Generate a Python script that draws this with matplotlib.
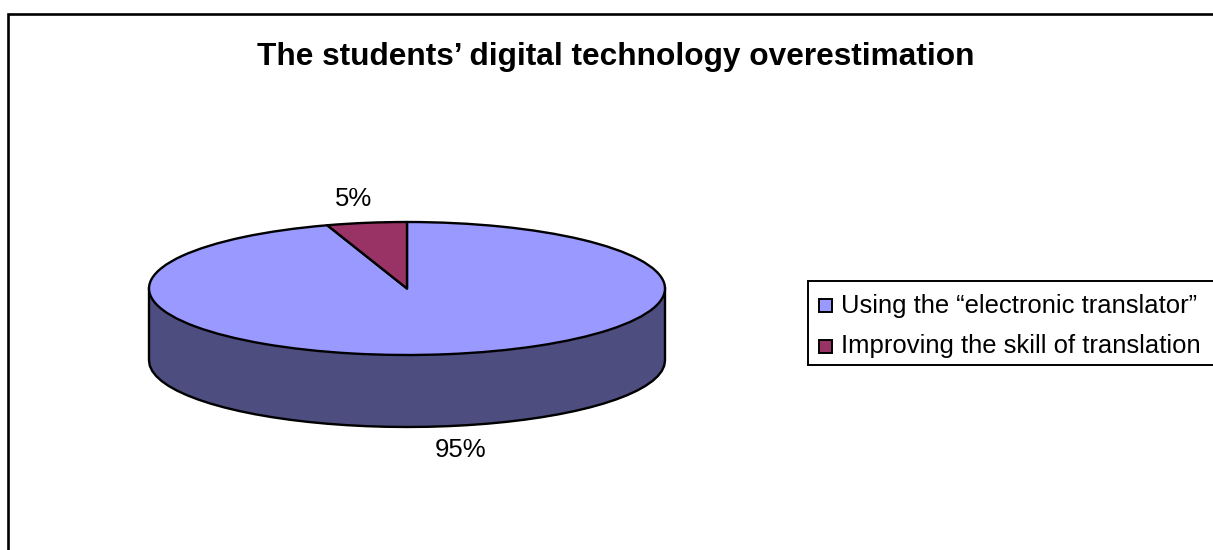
import numpy as np
import matplotlib
matplotlib.use("Agg")
import matplotlib.pyplot as plt
from matplotlib.patches import Rectangle

plt.rcParams['font.family'] = ['Liberation Sans', 'DejaVu Sans']

title = "The students\u2019 digital technology overestimation"
categories = ["Using the \u201celectronic translator\u201d", "Improving the skill of translation"]
values = [95, 5]
labels = ["95%", "5%"]
colors = ["#9999FF", "#993366"]
side_color = "#4D4D80"

W, H = 1213, 550
fig = plt.figure(figsize=(W / 100, H / 100), dpi=100, facecolor="white")

# overlay in pixel coordinates
ov = fig.add_axes([0, 0, 1, 1], zorder=3)
ov.set_xlim(0, W); ov.set_ylim(H, 0); ov.axis("off"); ov.patch.set_alpha(0)

cx, cy, rx, ry, depth = 407, 288.5, 258, 66.5, 72
ax = fig.add_axes([0, 0, 1, 1], zorder=2)
wedges, _ = ax.pie(values, startangle=108, colors=colors, radius=1,
                   wedgeprops=dict(edgecolor="black", linewidth=1.7, joinstyle="round"))
ax.set_aspect("auto")
ax.set_xlim(-cx / rx, (W - cx) / rx)
ax.set_ylim(-(H - cy) / ry, cy / ry)
ax.axis("off")

# cylinder wall below the front rim
t = np.linspace(np.pi, 2 * np.pi, 41)
d = depth / ry
ax.fill_between(np.cos(t), np.sin(t), np.sin(t) - d, color=side_color, lw=0, zorder=0.5)
ax.plot(np.r_[-1, np.cos(t), 1], np.r_[0, np.sin(t) - d, 0], color="black", lw=1.7, zorder=0.6,
        solid_joinstyle="round")

# chart border (runs off the right and bottom)
ov.plot([7.5, 7.5, W + 5], [H + 5, 14, 14], color="black", lw=1.9, solid_joinstyle="miter")

ov.text(616, 57, title, ha="center", va="center", fontsize=22.8, fontweight="bold", color="black")
ov.text(461, 450, labels[0], ha="center", va="center", fontsize=18.5, color="black")
ov.text(354, 199, labels[1], ha="center", va="center", fontsize=18.5, color="black")

# legend
ov.add_patch(Rectangle((807.5, 281), W, 84, fc="white", ec="black", lw=1.4))
for y, c, name in zip([305, 346], colors, categories):
    ov.add_patch(Rectangle((818.5, y - 6.5), 13.5, 13.5, fc=c, ec="black", lw=1.4))
    ov.text(841, y + 0.5, name, ha="left", va="center", fontsize=18.45, color="black")

fig.savefig("out.png", dpi=100)
